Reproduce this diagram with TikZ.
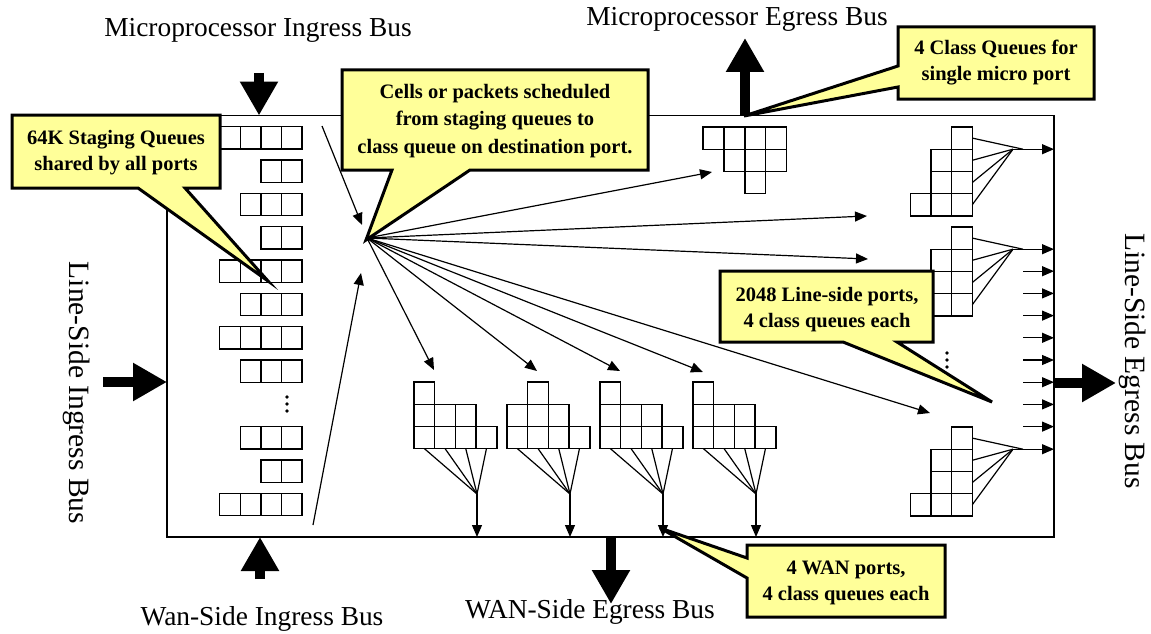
\documentclass[tikz,border=0pt]{standalone}
\usepackage{fontspec}
\setmainfont{Liberation Serif}
\usetikzlibrary{arrows.meta}
\definecolor{noteyellow}{RGB}{255,255,153}
\begin{document}
\begin{tikzpicture}[x=1pt,y=-1pt,
  cellbox/.style={draw, line width=1.4pt},
  thinline/.style={line width=1.2pt},
  arr/.style={line width=1.2pt,-{Triangle[length=12pt,width=10pt]}},
  bigarrow/.style={line width=10pt,-{Triangle[length=34pt,width=36pt]}},
  note/.style={draw, line width=3pt, fill=noteyellow, line join=miter},
  notetext/.style={font=\fontsize{20.5}{26}\selectfont\bfseries, align=center, inner sep=0},
  buslabel/.style={font=\fontsize{27.4}{30}\selectfont, inner sep=0},
  sidelabel/.style={font=\fontsize{29.5}{32}\selectfont, inner sep=0, rotate=-90},
]
\useasboundingbox (0,0) rectangle (1151,634);

% switch fabric outline
\node[draw, line width=1.3pt, minimum width=887pt, minimum height=421.5pt,
      inner sep=0, outer sep=0, anchor=north west] (fabric) at (167,115.5) {};

% bus labels
\node[buslabel] (miL) at (258,30) {Microprocessor Ingress Bus};
\node[buslabel] (meL) at (737,19) {Microprocessor Egress Bus};
\node[buslabel] (wiL) at (262,619) {Wan-Side Ingress Bus};
\node[buslabel] (weL) at (590,612) {WAN-Side Egress Bus};
\node[sidelabel] (liL) at (77,393) {Line-Side Ingress Bus};
\node[sidelabel] (leL) at (1133,361) {Line-Side Egress Bus};

% bus arrows
\coordinate (miS) at (259,73);
\coordinate (meE) at (745,38);
\coordinate (liS) at (103,382);
\coordinate (leE) at (1116,383);
\coordinate (wiS) at (260,579);
\coordinate (weE) at (611,604);
\draw[bigarrow] (miS) -- (miS |- fabric.north);
\draw[bigarrow] (meE |- fabric.north) -- (meE);
\draw[bigarrow] (liS) -- (liS -| fabric.west);
\draw[bigarrow] (leE -| fabric.east) -- (leE);
\draw[bigarrow] (wiS) -- (wiS |- fabric.south);
\draw[bigarrow] (weE |- fabric.south) -- (weE);

% staging queues
\foreach \k/\cnt in {0/4,1/2,2/3,3/2,4/4,5/3,6/4,7/3,9/3,10/2,11/4}
  \foreach \i in {1,...,\cnt}
    \draw[cellbox] ({302-20.6*\i},{126.7+33.33*\k}) rectangle ++(20.6,22.3);
\foreach \d in {397,404,411} \fill (287,\d) circle (1.9);

% scheduler hub
\coordinate (hub) at (367,238);
\coordinate (inTopS) at (322,126);
\coordinate (inTopE) at (362,225);
\coordinate (inBotS) at (313,525);
\coordinate (inBotE) at (361,273);
\draw[arr] (inTopS) -- (inTopE);
\draw[arr] (inBotS) -- (inBotE);

% micro port class queues
\foreach \x/\y in {0/0,1/0,2/0,3/0,1/1,2/1,3/1,2/2}
  \draw[cellbox] ({703+20.9*\x},{127+22.2*\y}) rectangle ++(20.9,22.2);

% line-side port class queues
\foreach \T/\nm in {127/lpA,227/lpB,427/lpC}{
  \foreach \x/\y in {2/0,1/1,2/1,1/2,2/2,0/3,1/3,2/3}
    \draw[cellbox] ({910.2+20.7*\x},{\T+22.2*\y}) rectangle ++(20.7,22.2);
  \coordinate (\nm) at (1013,{\T+22.2});
  \draw[thinline] (972.3,{\T+11.1}) -- (1023,{\T+22.2});
  \foreach \r in {1,2,3}
    \draw[thinline] (972.3,{\T+11.1+22.2*\r}) -- (\nm);
  \draw[arr] (\nm) -- (\nm -| fabric.east);
}
\foreach \j in {1,...,8}{
  \coordinate (ls\j) at (1023,{249+22.2*\j});
  \draw[arr] (ls\j) -- (ls\j -| fabric.east);
}
\foreach \d in {353,360,367} \fill (947,\d) circle (1.9);

% WAN port class queues
\foreach \L/\c/\nm in {414/0/wpA,507/1/wpB,600/0/wpC,693/0/wpD}{
  \draw[cellbox] ({\L+20.7*\c},382) rectangle ++(20.7,22.2);
  \foreach \x in {0,1,2}
    \draw[cellbox] ({\L+20.7*\x},404.2) rectangle ++(20.7,22.2);
  \foreach \x in {0,1,2,3}
    \draw[cellbox] ({\L+20.7*\x},426.4) rectangle ++(20.7,22.2);
  \coordinate (\nm) at ({\L+63},494);
  \foreach \x in {0,1,2,3}
    \draw[thinline] ({\L+10.35+20.7*\x},448.6) -- (\nm);
  \draw[arr] (\nm) -- (\nm |- fabric.south);
}

% scheduled cell paths from the hub
\coordinate (tMicro) at (712,172);
\coordinate (tL1) at (867,216);
\coordinate (tL2) at (868,259);
\coordinate (tL3) at (930,413);
\coordinate (tW1) at (434,370);
\coordinate (tW2) at (537,371);
\coordinate (tW3) at (620,371);
\coordinate (tW4) at (703,372);
\foreach \t in {tMicro,tL1,tL2,tL3,tW1,tW2,tW3,tW4}
  \draw[arr] (hub) -- (\t);

% callouts
\draw[note] (12,115) -- (220,115) -- (220,188) -- (185,188) -- (268,281)
  -- (138,188) -- (12,188) -- cycle;
\node[notetext] (n1) at (116,152.5) {64K Staging Queues\\shared by all ports};

\draw[note] (342,70) -- (648,70) -- (648,170) -- (470,170) -- (366,240)
  -- (392,170) -- (342,170) -- cycle;
\node[notetext, font=\fontsize{20.5}{27.5}\selectfont\bfseries] (n2) at (495,121)
  {Cells or packets scheduled\\from staging queues to\\class queue on destination port.};

\draw[note] (898,27) -- (1094,27) -- (1094,99) -- (898,99) -- (898,87)
  -- (744,116) -- (898,66) -- cycle;
\node[notetext] (n3) at (996,63) {4 Class Queues for\\single micro port};

\draw[note] (720,271) -- (933,271) -- (933,342) -- (897,342) -- (992,402)
  -- (843,342) -- (720,342) -- cycle;
\node[notetext] (n4) at (827,309.5) {2048 Line-side ports,\\4 class queues each};

\draw[note] (747,545) -- (945,545) -- (945,617) -- (747,617) -- (747,578)
  -- (660,528) -- (747,558) -- cycle;
\node[notetext] (n5) at (846,583) {4 WAN ports,\\4 class queues each};
\end{tikzpicture}
\end{document}
